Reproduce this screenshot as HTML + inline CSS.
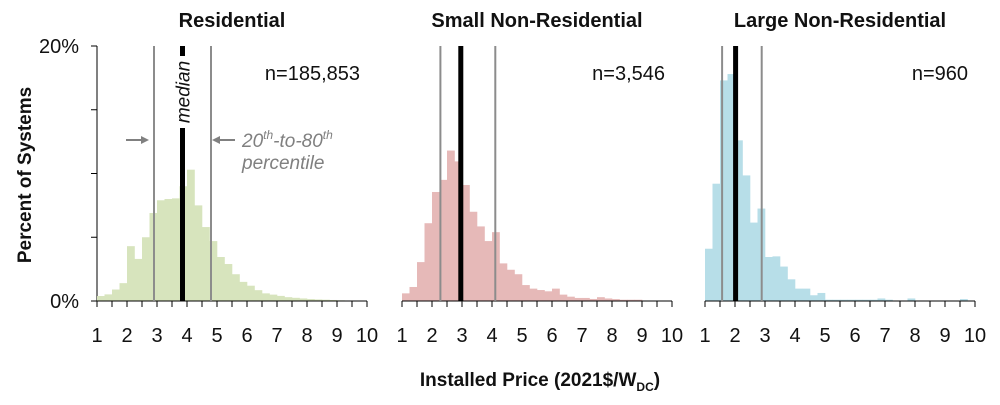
<!DOCTYPE html>
<html><head><meta charset="utf-8"><style>
html,body{margin:0;padding:0;background:#fff;}
svg{display:block;font-family:"Liberation Sans",Arial,sans-serif;}
</style></head><body>
<svg id="chart" width="1000" height="405" viewBox="0 0 1000 405">
<text x="31" y="175" transform="rotate(-90 31 175)" text-anchor="middle" font-size="19" font-weight="bold" fill="#111">Percent of Systems</text>
<text x="540" y="386" text-anchor="middle" font-size="19" font-weight="bold" fill="#111">Installed Price (2021$/W<tspan font-size="12" dy="5">DC</tspan><tspan dy="-5">)</tspan></text>
<g id="yaxis"></g>
<g id="panels"></g>
<g>
<line x1="126" y1="140" x2="145" y2="140" stroke="#808080" stroke-width="2"/>
<polygon points="149,140 141,136 141,144" fill="#808080"/>
<line x1="216" y1="140" x2="235" y2="140" stroke="#808080" stroke-width="2"/>
<polygon points="212,140 220,136 220,144" fill="#808080"/>
<text x="242" y="147" font-size="19" font-style="italic" fill="#808080">20<tspan font-size="12" dy="-8">th</tspan><tspan dy="8">-to-80</tspan><tspan font-size="12" dy="-8">th</tspan></text>
<text x="242" y="169" font-size="19" font-style="italic" fill="#808080">percentile</text>
</g>
</svg>
<script>
const titles = ["Residential", "Small Non-Residential", "Large Non-Residential"];
const counts = ["n=185,853", "n=3,546", "n=960"];
const binStart = 1.0;
const binWidth = 0.25;
const resValues = [0.39,0.52,0.9,1.4,4.3,3.3,5.0,6.9,7.9,8.0,8.05,9.0,10.3,7.5,5.8,4.7,3.45,2.9,2.1,1.5,1.2,0.85,0.6,0.5,0.4,0.3,0.25,0.2,0.15,0.12,0.1,0.08,0.05,0,0,0];
const smallValues = [0.6,1.1,3.05,6.1,8.55,9.5,11.8,10.95,9.1,7.0,5.85,4.7,5.4,2.95,2.45,2.1,1.25,0.97,0.86,0.76,0.97,0.5,0.34,0.24,0.24,0.16,0.3,0.2,0.15,0.1,0.1,0.1,0,0,0,0];
const largeValues = [4.1,9.2,17.3,17.8,12.6,9.85,6.15,7.25,3.45,3.5,2.7,1.7,0.97,0.97,0.45,0.63,0.1,0.1,0.1,0.1,0.1,0.1,0.1,0.2,0.1,0,0,0.2,0,0,0,0,0,0,0.15,0];
const p20 = [2.9, 2.28, 1.57];
const medians = [3.85, 2.96, 2.02];
const p80 = [4.8, 4.11, 2.89];
const xTicks = [1,2,3,4,5,6,7,8,9,10];
const yTicks = [0,5,10,15,20];
const yTickLabels = {0:"0%",20:"20%"};

const NS = "http://www.w3.org/2000/svg";
const panelsG = document.getElementById("panels");
const yaxisG = document.getElementById("yaxis");
const colors = ["#d7e4bd","#e6b9b8","#b7dee8"];
const series = [resValues, smallValues, largeValues];
const origins = [97, 402, 705];
const unit = 30;
const y0 = 301, yTop = 46;
function yScale(v){ return y0 - v*(y0-yTop)/20; }
function mk(tag, attrs, parent){ const e=document.createElementNS(NS,tag); for(const k in attrs) e.setAttribute(k,attrs[k]); parent.appendChild(e); return e; }

let ln = mk("line",{x1:97,y1:yTop,x2:97,y2:y0,stroke:"#000","stroke-width":1},yaxisG);


yTicks.forEach(t=>{
  const tk = mk("line",{x1:91,y1:yScale(t),x2:97,y2:yScale(t),stroke:"#000"},yaxisG);
  
  
  if(yTickLabels[t]!==undefined){
    const tx = mk("text",{x:79,y:yScale(t)+7,"text-anchor":"end","font-size":20,fill:"#111"},yaxisG);
    tx.textContent = yTickLabels[t];
    
    
  }
});

series.forEach((vals,pi)=>{
  const ox = origins[pi];
  const xs = v => ox + (v-1)*unit;
  const g = mk("g",{},panelsG);
  
  
  vals.forEach((v,i)=>{
    if(v<=0) return;
    const a = binStart + i*binWidth;
    const r = mk("rect",{x:xs(a),y:yScale(v),width:binWidth*unit+0.3,height:y0-yScale(v),fill:colors[pi]},g);
    
    
  });
  const ax = mk("line",{x1:xs(1),y1:y0,x2:xs(10),y2:y0,stroke:"#000"},g);
  
  
  for(let t=1;t<=10.001;t+=0.5){
    const tk = mk("line",{x1:xs(t),y1:y0,x2:xs(t),y2:y0+6,stroke:"#000"},g);
    
    
  }
  xTicks.forEach(t=>{
    const tx = mk("text",{x:xs(t),y:342,"text-anchor":"middle","font-size":20,fill:"#111"},g);
    tx.textContent = t;
    
    
  });
  [p20[pi],p80[pi]].forEach((v,k)=>{
    const l = mk("line",{x1:xs(v),y1:yTop,x2:xs(v),y2:y0,stroke:"#8c8c8c","stroke-width":2},g);
    
    
  });
  const m = mk("line",{x1:xs(medians[pi]),y1:yTop,x2:xs(medians[pi]),y2:y0,stroke:"#000","stroke-width":5},g);
  
  
  const tt = mk("text",{x:ox+135,y:27,"text-anchor":"middle","font-size":20,"font-weight":"bold",fill:"#111"},g);
  tt.textContent = titles[pi];
  
  
  const nt = mk("text",{x:ox+263,y:80,"text-anchor":"end","font-size":20,fill:"#111"},g);
  nt.textContent = counts[pi];
  
  
  if(pi===0){
    const mx = xs(medians[0]);
    const bg = mk("rect",{x:mx-10,y:56,width:20,height:72,fill:"#fff"},g);
    
    
    const mt = mk("text",{x:mx+7,y:92,transform:"rotate(-90 "+(mx+7)+" 92)","text-anchor":"middle","font-size":19,"font-style":"italic",fill:"#111"},g);
    mt.textContent = "median";
    
    
  }
});
</script>
</body></html>
